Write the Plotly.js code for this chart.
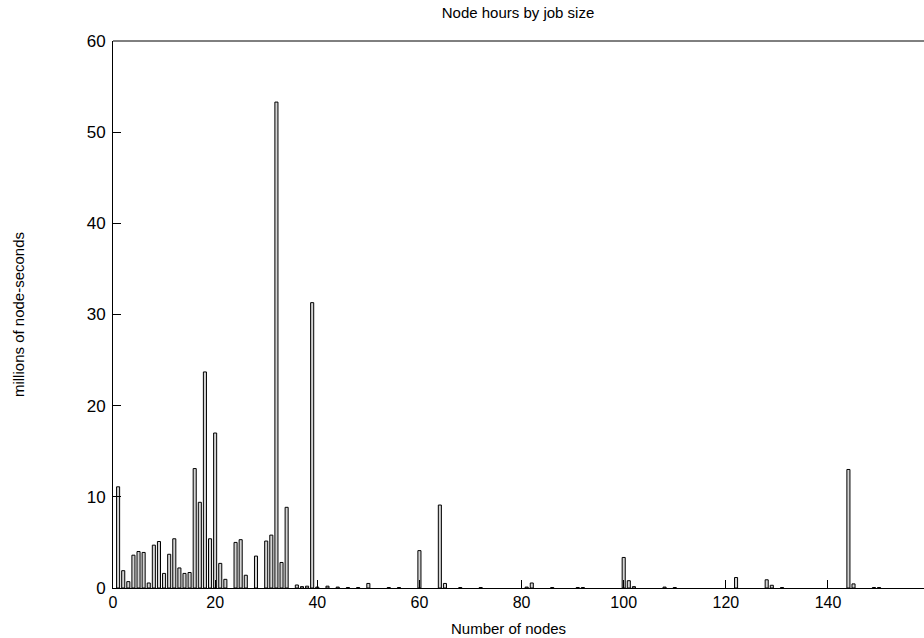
<!DOCTYPE html>
<html>
<head>
<meta charset="utf-8">
<script src="https://cdn.plot.ly/plotly-3.0.1.min.js"></script>
<style>
html, body { margin: 0; padding: 0; overflow: hidden; background: #fff; }
#chart { width: 924px; height: 638px; }
</style>
</head>
<body>
<div id="chart"></div>
<script>
// Number of nodes per job
const nodes = [1, 2, 3, 4, 5, 6, 7, 8, 9, 10, 11, 12, 13, 14, 15, 16, 17, 18, 19, 20,
  21, 22, 24, 25, 26, 28, 30, 31, 32, 33, 34, 36, 37, 38, 39, 40, 42, 44, 46, 48,
  50, 54, 56, 60, 64, 65, 68, 72, 81, 82, 86, 91, 92, 100, 101, 102, 108, 110,
  122, 128, 129, 131, 144, 145, 149, 150];
// Millions of node-seconds
const nodeSeconds = [11.1, 1.9, 0.7, 3.6, 4.0, 3.9, 0.55, 4.7, 5.1, 1.6, 3.7, 5.4, 2.2, 1.6, 1.7, 13.1, 9.4, 23.7, 5.4, 17.0,
  2.7, 0.95, 5.0, 5.3, 1.4, 3.5, 5.15, 5.8, 53.3, 2.8, 8.85, 0.33, 0.15, 0.2, 31.3, 0.1, 0.2, 0.1, 0.05, 0.05,
  0.5, 0.05, 0.05, 4.1, 9.1, 0.5, 0.05, 0.05, 0.1, 0.55, 0.05, 0.05, 0.05, 3.35, 0.8, 0.15, 0.1, 0.05,
  1.15, 0.9, 0.3, 0.05, 13.0, 0.45, 0.05, 0.05];
const xTicks = [0, 20, 40, 60, 80, 100, 120, 140];
const yTicks = [0, 10, 20, 30, 40, 50, 60];

const font = "Liberation Sans, Arial, sans-serif";

Plotly.newPlot('chart', [{
  type: 'bar',
  x: nodes,
  y: nodeSeconds,
  width: 0.6,
  marker: { color: '#d4d4d4', line: { color: '#000', width: 1 } },
  hoverinfo: 'x+y'
}], {
  width: 924,
  height: 638,
  margin: { l: 113, r: 0, t: 41, b: 50, pad: 0 },
  paper_bgcolor: '#fff',
  plot_bgcolor: '#fff',
  showlegend: false,
  font: { family: font, size: 15, color: '#000' },
  title: {
    text: 'Node hours by job size',
    font: { family: font, size: 15, color: '#000' },
    xref: 'container', x: 518 / 924, xanchor: 'center',
    yref: 'container', y: 1 - 13 / 638, yanchor: 'middle'
  },
  annotations: [{
    text: 'Number of nodes',
    xref: 'paper', yref: 'paper',
    x: (508 - 113) / 811, y: -(628 - 588) / 547,
    xanchor: 'center', yanchor: 'middle',
    showarrow: false,
    font: { family: font, size: 15, color: '#000' }
  }],
  shapes: [{
    type: 'line', xref: 'paper', yref: 'paper',
    x0: 0, x1: 1.02, y0: 1, y1: 1,
    line: { color: '#000', width: 1 }
  }],
  xaxis: {
    range: [0, 158.8],
    tickvals: xTicks,
    ticktext: xTicks.map(String),
    ticks: 'inside', ticklen: 8, tickwidth: 1, tickcolor: '#000',
    showline: true, linecolor: '#000', linewidth: 1, mirror: false,
    showgrid: false, zeroline: false,
    tickfont: { family: font, size: 16, color: '#000' }
  },
  yaxis: {
    range: [0, 60],
    tickvals: yTicks,
    ticks: 'inside', ticklen: 8, tickwidth: 1, tickcolor: '#000',
    showline: true, linecolor: '#000', linewidth: 1, mirror: false,
    showgrid: false, zeroline: false,
    tickfont: { family: font, size: 17, color: '#000' },
    ticklabelstandoff: 3,
    title: { text: 'millions of node-seconds', font: { family: font, size: 15, color: '#000' }, standoff: 58 }
  },
  bargap: 0
}, { displayModeBar: false, staticPlot: true });
</script>
</body>
</html>
